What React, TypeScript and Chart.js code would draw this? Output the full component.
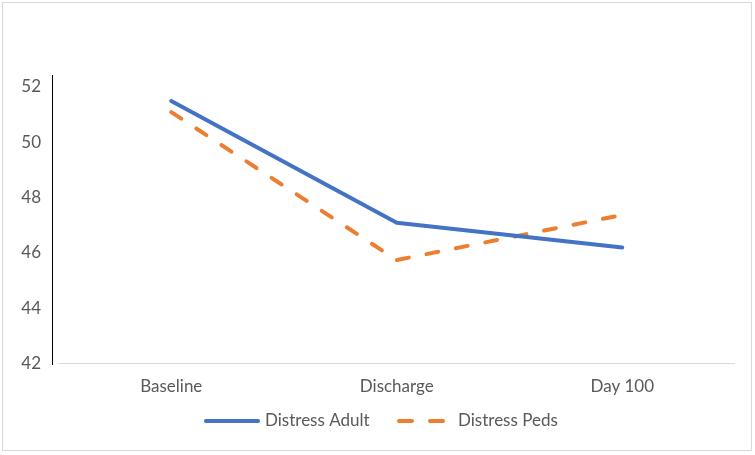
import React, { useEffect, useRef } from "react";
import { Chart, registerables } from "chart.js";

Chart.register(...registerables);

const categories = ["Baseline", "Discharge", "Day 100"];
const adultValues = [51.49, 47.09, 46.19];
const pedsValues = [51.09, 45.74, 47.37];
const yTickValues = [42, 44, 46, 48, 50, 52];
const seriesNames = ["Distress Adult", "Distress Peds"];

const FONT = "Lato, 'Open Sans', sans-serif";
const TEXT_COLOR = "#595959";
const BLUE = "#4472C4";
const ORANGE = "#ED7D31";

const decorPlugin = {
  id: "decor",
  afterDraw(chart: any) {
    const { ctx, chartArea } = chart;
    ctx.save();
    // y axis line
    ctx.strokeStyle = "#000000";
    ctx.lineWidth = 1;
    ctx.beginPath();
    ctx.moveTo(52.5, chartArea.top);
    ctx.lineTo(52.5, chartArea.bottom + 1.5);
    ctx.stroke();
    // x axis line
    ctx.strokeStyle = "#d9d9d9";
    ctx.beginPath();
    ctx.moveTo(chartArea.left, 363.5);
    ctx.lineTo(chartArea.right, 363.5);
    ctx.stroke();
    // legend
    const ly = 421;
    ctx.lineWidth = 4;
    ctx.lineCap = "round";
    ctx.strokeStyle = BLUE;
    ctx.setLineDash([]);
    ctx.beginPath();
    ctx.moveTo(206, ly);
    ctx.lineTo(258, ly);
    ctx.stroke();
    ctx.strokeStyle = ORANGE;
    ctx.setLineDash([13, 18]);
    ctx.beginPath();
    ctx.moveTo(399, ly);
    ctx.lineTo(446, ly);
    ctx.stroke();
    ctx.setLineDash([]);
    ctx.fillStyle = TEXT_COLOR;
    ctx.font = `17px ${FONT}`;
    ctx.textBaseline = "middle";
    ctx.textAlign = "left";
    ctx.fillText(seriesNames[0], 265, ly);
    ctx.fillText(seriesNames[1], 458, ly);
    ctx.restore();
  },
};

export default function App() {
  const ref = useRef<HTMLCanvasElement | null>(null);
  useEffect(() => {
    if (!ref.current) return;
    const chart = new Chart(ref.current, {
      type: "line",
      data: {
        labels: categories,
        datasets: [
          {
            label: seriesNames[0],
            data: adultValues,
            borderColor: BLUE,
            backgroundColor: BLUE,
            borderWidth: 4,
            pointRadius: 0,
            borderCapStyle: "round",
            borderJoinStyle: "round",
            tension: 0,
          },
          {
            label: seriesNames[1],
            data: pedsValues,
            borderColor: ORANGE,
            backgroundColor: ORANGE,
            borderWidth: 4,
            borderDash: [12, 18],
            pointRadius: 0,
            borderCapStyle: "round",
            borderJoinStyle: "round",
            tension: 0,
          },
        ],
      },
      options: {
        animation: false,
        responsive: false,
        maintainAspectRatio: false,
        layout: { padding: { left: 0, top: 75, right: 20, bottom: 0 } },
        plugins: { legend: { display: false }, tooltip: { enabled: false } },
        scales: {
          x: {
            offset: true,
            grid: { display: false, drawTicks: false },
            border: { display: false },
            ticks: { color: TEXT_COLOR, font: { family: FONT, size: 17 }, padding: 13 },
            afterFit(scale: any) {
              scale.height = 91.5;
            },
          },
          y: {
            min: 42,
            max: 52.43,
            grid: { display: false, drawTicks: false },
            border: { display: false },
            ticks: { color: TEXT_COLOR, font: { family: FONT, size: 17 }, padding: 17.5 },
            afterBuildTicks(scale: any) {
              scale.ticks = yTickValues.map((v) => ({ value: v }));
            },
            afterFit(scale: any) {
              scale.width = 58.5;
            },
          },
        },
      },
      plugins: [decorPlugin],
    });
    return () => chart.destroy();
  }, []);
  return (
    <div style={{ position: "fixed", left: 0, top: 0, width: 755, height: 455, background: "#fff" }}>
      <canvas ref={ref} width={755} height={455} style={{ position: "absolute", left: 0, top: 0 }} />
      <div
        style={{
          position: "absolute",
          left: 2,
          top: 2,
          width: 750,
          height: 449,
          border: "1px solid #d9d9d9",
          boxSizing: "border-box",
          pointerEvents: "none",
        }}
      />
    </div>
  );
}
